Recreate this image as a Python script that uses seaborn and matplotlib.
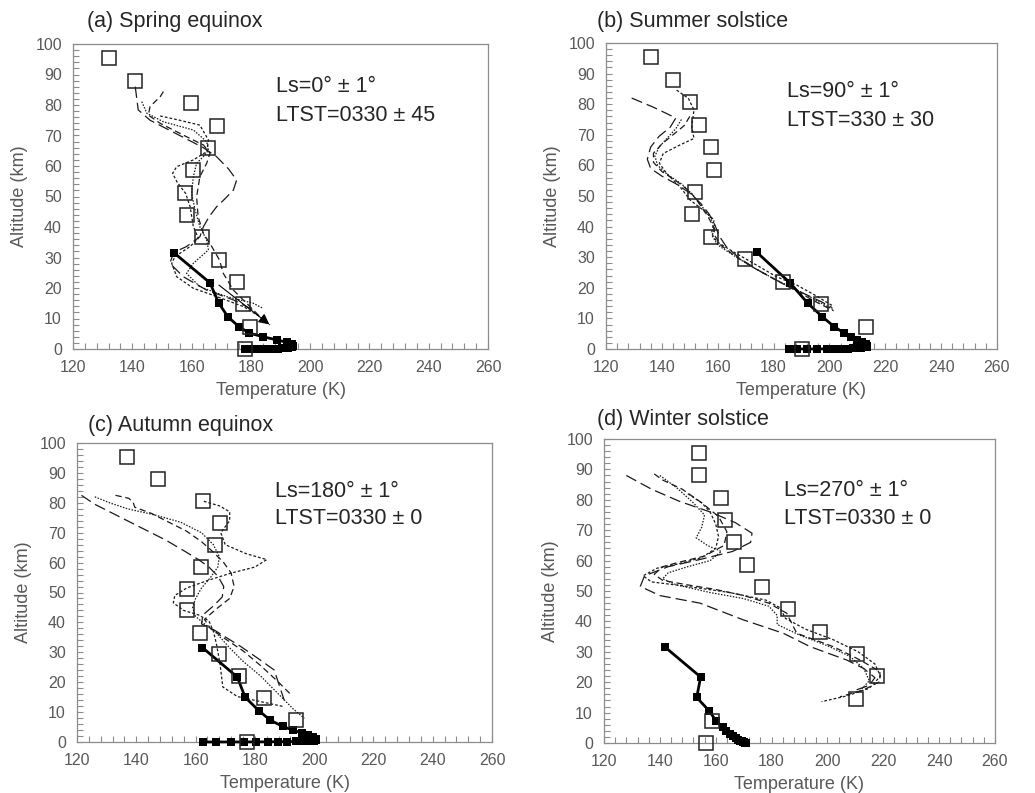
import numpy as np
import pandas as pd
import matplotlib
matplotlib.use("Agg")
import matplotlib.pyplot as plt
from matplotlib.ticker import MultipleLocator
import seaborn as sns

sns.set_style("white")
plt.rcParams["font.family"] = ["Liberation Sans", "DejaVu Sans"]

# ---------------- data ----------------
# open squares (observations), altitude km
obs_alt = [0, 7.3, 14.6, 22.0, 29.3, 36.6, 44.0, 51.3, 58.6, 66.0, 73.2, 80.6, 88.0, 95.3]
obs_T_a = [178.0, 179.7, 177.2, 175.4, 169.4, 163.4, 158.4, 157.9, 160.6, 165.4, 168.5, 159.8, 141.0, 132.2]
obs_T_b = [190.3, 213.0, 196.9, 183.3, 169.8, 157.6, 150.7, 151.9, 158.7, 157.6, 153.4, 150.1, 143.9, 136.0]
obs_T_c = [177.5, 194.0, 183.2, 174.7, 168.0, 161.5, 157.2, 157.2, 161.7, 166.4, 168.2, 162.6, 147.4, 136.8]
obs_T_d = [156.4, 158.6, 210.2, 217.6, 210.5, 197.3, 186.0, 176.6, 171.1, 166.5, 163.3, 161.8, 154.1, 154.1]

# thick solid line with small filled squares
thick_alt = [31.6, 21.7, 15.0, 10.5, 7.3, 5.2, 4.0, 3.0, 2.2, 1.6, 1.1, 0.75, 0.5, 0.35,
             0.25, 0.18, 0.13, 0.09, 0.06, 0.04, 0.025, 0.015, 0.008, 0.0]
thick_T_a = [154.0, 166.2, 169.2, 172.3, 176.0, 179.5, 184.2, 188.7, 192.1, 193.8, 194.3, 194.0,
             193.4, 192.6, 191.6, 190.4, 189.0, 187.5, 185.8, 184.0, 182.2, 180.5, 179.0, 178.0]
thick_T_b = [174.0, 185.8, 192.2, 197.5, 201.7, 205.3, 207.8, 210.0, 211.8, 213.0, 213.5, 213.3,
             212.5, 211.3, 210.0, 208.3, 206.5, 204.5, 202.0, 199.0, 195.5, 192.0, 188.5, 185.5]
thick_T_c = [162.3, 174.1, 176.7, 181.3, 185.2, 189.4, 192.8, 195.8, 198.0, 199.5, 200.5, 200.6,
             199.8, 198.4, 196.5, 194.0, 191.0, 187.8, 184.3, 180.5, 176.5, 172.0, 167.0, 162.5]
thick_T_d = [141.8, 154.6, 153.2, 157.7, 160.1, 162.5, 163.8, 165.0, 166.2, 167.2, 168.0, 168.7,
             169.3, 169.7, 170.0, 170.2, 170.4, 170.5, 170.6, 170.6, 170.7, 170.7, 170.7, 170.7]

# model profiles (temperature K, altitude km)
a1_T = [141, 142, 146, 152, 158, 164, 168.5, 172.5, 175.2, 174.1, 171, 168.5, 166, 164, 162.8, 158.3, 153.9, 152.7, 157.2, 165.1, 174.1, 180.8]
a1_h = [86, 78.4, 75, 72, 69, 66, 63, 59, 55.4, 52.1, 49, 46.7, 43.5, 40.1, 36.8, 33.6, 31.6, 28.1, 23.7, 19.3, 16.1, 12.8]
a2_T = [150.5, 149.4, 146, 145.4, 149.4, 158.3, 164, 166.2, 165.1, 162.8, 161.7, 162.2, 164, 166.8, 169.4, 170.7, 174.1, 179.7, 184.2, 186.5]
a2_h = [84.4, 82.7, 79.5, 76.7, 74, 69.6, 66.9, 64.2, 60.9, 56.5, 49.9, 43.4, 37.9, 33.6, 29.2, 24.8, 19.3, 13.9, 9.5, 7.9]
a3_T = [149.4, 156, 162.8, 165.7, 165.1, 160.6, 155, 153.6, 155, 158, 159.5, 160.6, 162.3, 159.5, 154.4, 153.3, 155, 160.6, 168.5, 177.5, 183.1]
a3_h = [76.4, 75, 73.4, 68.5, 64.7, 62, 59.8, 57.6, 54.9, 51, 46.7, 40.1, 36.3, 33.6, 30.3, 28.1, 23.7, 19.9, 17.2, 13.9, 10.6]
a4_T = [143.2, 144.9, 150.5, 160.6, 165.1, 165.7, 164, 161.7, 160.6, 160, 161.2, 162.8, 165.1, 165.7, 160.6, 158.3, 162.8, 171.8, 180.8, 184.2]
a4_h = [81.1, 77.3, 74.5, 71.8, 68, 65.2, 63.1, 60.9, 56.5, 51, 45.6, 40.1, 35.7, 32.5, 28.1, 24.8, 20.4, 17.2, 15, 13.3]

b1_T = [129.2, 137, 145, 143, 139, 136, 134.8, 136, 140, 145, 150, 154, 157, 159, 160.5, 163, 168, 175, 183, 190, 197, 201]
b1_h = [82, 79, 75.5, 72.5, 69.5, 66, 62, 59, 56.5, 54, 51, 47.5, 44, 40.5, 37, 33.5, 29.5, 25.5, 21.5, 18.5, 15.5, 13.5]
b2_T = [150, 148, 144, 140, 137, 137, 140, 145, 150, 153, 156, 158.5, 159, 161, 166, 173, 181, 189, 196, 201.5]
b2_h = [76, 73, 70, 67, 64, 61, 58, 55, 51.5, 48, 44, 40, 37, 34, 30.5, 26.5, 22.5, 18.5, 15, 12.5]
b3_T = [145.3, 149.5, 151.5, 150.7, 151.5, 146.5, 140.5, 139.1, 141.7, 146.5, 150.1, 154.8, 158.7, 157.8, 159.6, 164.4, 172.8, 181.1, 188.5, 195, 201]
b3_h = [84.6, 81.9, 78.1, 72.7, 68.8, 66.7, 63.9, 60.7, 57.4, 53, 48.7, 45.4, 42.2, 37.8, 35.1, 32.4, 28, 23.6, 20.8, 17.5, 14.2]
b4_T = [147, 145, 142, 139, 137.5, 138.5, 142, 147, 151, 154, 157, 159, 158, 160, 165, 172, 180, 188, 195, 201.5]
b4_h = [75, 72, 69, 66, 63, 60, 57, 54, 50.5, 47, 43.5, 40, 37, 34, 31, 27, 23, 19.5, 16, 12.8]

c1_T = [121.5, 126, 131, 137, 143, 150, 156, 161, 164.5, 167.5, 169.5, 169, 166, 162.5, 162, 166.2, 175.3, 181, 186.5, 189.9]
c1_h = [82.5, 79.5, 77, 74, 71, 67.5, 64, 61, 58.5, 55.5, 52, 48.5, 45.5, 42.5, 39.5, 37.5, 31.9, 28, 24.1, 14]
c2_T = [133, 137.5, 139, 139.5, 145, 151, 157, 162, 166, 169.5, 172, 173, 171.5, 167, 163, 165, 170, 176, 182, 188, 192]
c2_h = [82.5, 81.5, 80, 78.5, 76.5, 73.5, 70.5, 67, 63.5, 60, 56.5, 52, 48, 44.5, 41, 38, 34.5, 30.5, 25.5, 20, 16]
c3_T = [162.8, 168, 171.5, 171.5, 168.5, 170, 177, 184, 180, 172, 164, 157, 153, 152.5, 156, 161, 164.5, 166, 167, 168.2, 169.2, 174.1, 182, 189.9]
c3_h = [80.5, 79, 77, 74, 70, 66, 63, 61, 58.5, 56.5, 54, 51.5, 49, 46.5, 44, 42.5, 40.5, 37, 33, 26.4, 18.4, 15.2, 13.5, 11.8]
c4_T = [126, 131, 137, 146, 155, 162, 166, 168, 167.5, 165, 162, 160, 159, 160, 163, 167, 171, 176, 182, 188, 193, 196.7]
c4_h = [82, 80, 78, 76, 73.5, 70, 66, 62, 58.5, 55, 51.5, 48, 45, 42, 39.5, 36.5, 32, 27, 22, 16, 11, 7.9]

d1_T = [128, 137, 147, 158, 167, 173, 172.5, 166, 155, 143, 134.5, 133, 140, 154.4, 169.9, 184.2, 193.8, 206.9, 213, 217, 215, 209]
d1_h = [88, 83.5, 79.5, 76, 72.5, 69, 66, 63, 60.5, 58, 55, 51.5, 48.5, 46, 40.5, 36.1, 31.7, 27.3, 24.5, 21.5, 19, 17]
d2_T = [138, 141, 148, 155, 161, 164, 163, 156, 147, 141, 138, 141, 150, 160, 170, 179, 185.4, 189, 202.1, 211.7, 218.8, 218.8, 212.8, 204.5]
d2_h = [88.5, 86.5, 83.5, 79, 74.5, 69.5, 65, 61.5, 59.5, 58, 55.5, 53.5, 52, 50.5, 48.5, 46, 42.7, 36.1, 31.7, 27.3, 23.5, 20.2, 17.4, 15.2]
d3_T = [150, 155, 158, 160, 161, 160, 155, 147, 139, 134, 137, 150, 165, 178, 183, 185, 192, 202, 211, 217, 219, 215, 207, 197.9]
d3_h = [82, 79, 76, 72, 68, 64, 61, 59, 57.5, 55, 53, 51.5, 49.5, 47, 44.5, 41, 37.5, 34, 30, 26, 22, 18, 15.5, 13.6]
d4_T = [140, 146, 152, 156, 155, 153, 157, 162, 158, 150, 143, 141, 146, 158, 170, 179, 182, 182, 190, 200, 208, 213, 215, 211]
d4_h = [88, 84, 79, 75, 71, 67.5, 65, 63, 60, 58, 56, 54, 52, 49.5, 47.5, 45, 42, 39, 35.5, 32, 28.5, 24.5, 20.5, 16.5]

# arrow in panel (a): tail and head (T, altitude)
arrow_a = [(168.5, 21.5), (187.0, 7.5)]

titles = ["(a) Spring equinox", "(b) Summer solstice", "(c) Autumn equinox", "(d) Winter solstice"]
notes = [("Ls=0° ± 1°", "LTST=0330 ± 45"), ("Ls=90° ± 1°", "LTST=330 ± 30"),
         ("Ls=180° ± 1°", "LTST=0330 ± 0"), ("Ls=270° ± 1°", "LTST=0330 ± 0")]

panels = [
    dict(obs=obs_T_a, thick=thick_T_a, models=[(a1_T, a1_h), (a2_T, a2_h), (a3_T, a3_h), (a4_T, a4_h)]),
    dict(obs=obs_T_b, thick=thick_T_b, models=[(b1_T, b1_h), (b2_T, b2_h), (b3_T, b3_h), (b4_T, b4_h)]),
    dict(obs=obs_T_c, thick=thick_T_c, models=[(c1_T, c1_h), (c2_T, c2_h), (c3_T, c3_h), (c4_T, c4_h)]),
    dict(obs=obs_T_d, thick=thick_T_d, models=[(d1_T, d1_h), (d2_T, d2_h), (d3_T, d3_h), (d4_T, d4_h)]),
]

# ---------------- layout ----------------
W, H = 1035, 793
rects_px = [(73, 44, 488, 349), (606, 43, 997, 349), (77, 443, 492, 742), (604, 439, 995, 743)]
title_px = [(87, 22), (597, 22), (88, 425), (597, 420)]
note_frac = [(0.49, 0.86, 0.767), (0.463, 0.84, 0.748), (0.477, 0.839, 0.746), (0.46, 0.829, 0.737)]
model_styles = [(0, (9, 4)), (0, (5, 3)), (0, (2.2, 1.6)), (0, (1.2, 1.2))]

fig = plt.figure(figsize=(W / 100, H / 100), dpi=100)
gray = "#595959"
frame = "#8c8c8c"

for i, p in enumerate(panels):
    l, t, r, b = rects_px[i]
    ax = fig.add_axes([l / W, 1 - b / H, (r - l) / W, (b - t) / H])

    for (mT, mh), ls in zip(p["models"], model_styles):
        sns.lineplot(x=mT, y=mh, sort=False, estimator=None, ax=ax, color="#1a1a1a",
                     lw=0.9, linestyle=ls)

    sns.lineplot(x=p["thick"], y=thick_alt, sort=False, estimator=None, ax=ax, color="black",
                 lw=2.0, marker="s", markersize=5.2, markeredgewidth=0, clip_on=False, zorder=4)

    sns.lineplot(x=p["obs"], y=obs_alt, sort=False, estimator=None, ax=ax, linestyle="",
                 marker="s", markersize=10, markerfacecolor="none", markeredgecolor="#222222",
                 markeredgewidth=1.1, clip_on=False, zorder=5)

    if i == 0:
        (x0, y0), (x1, y1) = arrow_a
        ax.annotate("", xy=(x1, y1), xytext=(x0, y0),
                    arrowprops=dict(arrowstyle="-|>", color="black", lw=0.8, mutation_scale=16))

    ax.set_xlim(120, 260)
    ax.set_ylim(0, 100)
    ax.set_xticks(np.arange(120, 261, 20))
    ax.set_yticks(np.arange(0, 101, 10))
    ax.xaxis.set_minor_locator(MultipleLocator(4))
    ax.yaxis.set_minor_locator(MultipleLocator(2))
    ax.tick_params(which="both", direction="in", length=4, width=0.8, color=frame,
                   top=False, right=False, bottom=True, left=True)
    ax.tick_params(which="major", labelsize=11.5, labelcolor=gray, pad=8)
    for s in ax.spines.values():
        s.set_color(frame)
        s.set_linewidth(0.9)
    ax.set_xlabel("Temperature (K)", fontsize=13, color=gray, labelpad=5)
    ax.set_ylabel("Altitude (km)", fontsize=13, color=gray, labelpad=5)
    ax.grid(False)

    nx, ny1, ny2 = note_frac[i]
    ax.text(nx, ny1, notes[i][0], transform=ax.transAxes, fontsize=15.5, ha="left", va="center")
    ax.text(nx, ny2, notes[i][1], transform=ax.transAxes, fontsize=15.5, ha="left", va="center")

    tx, ty = title_px[i]
    fig.text(tx / W, 1 - ty / H, titles[i], fontsize=15.5, ha="left", va="center")

fig.savefig("out.png", dpi=100, facecolor="white")
